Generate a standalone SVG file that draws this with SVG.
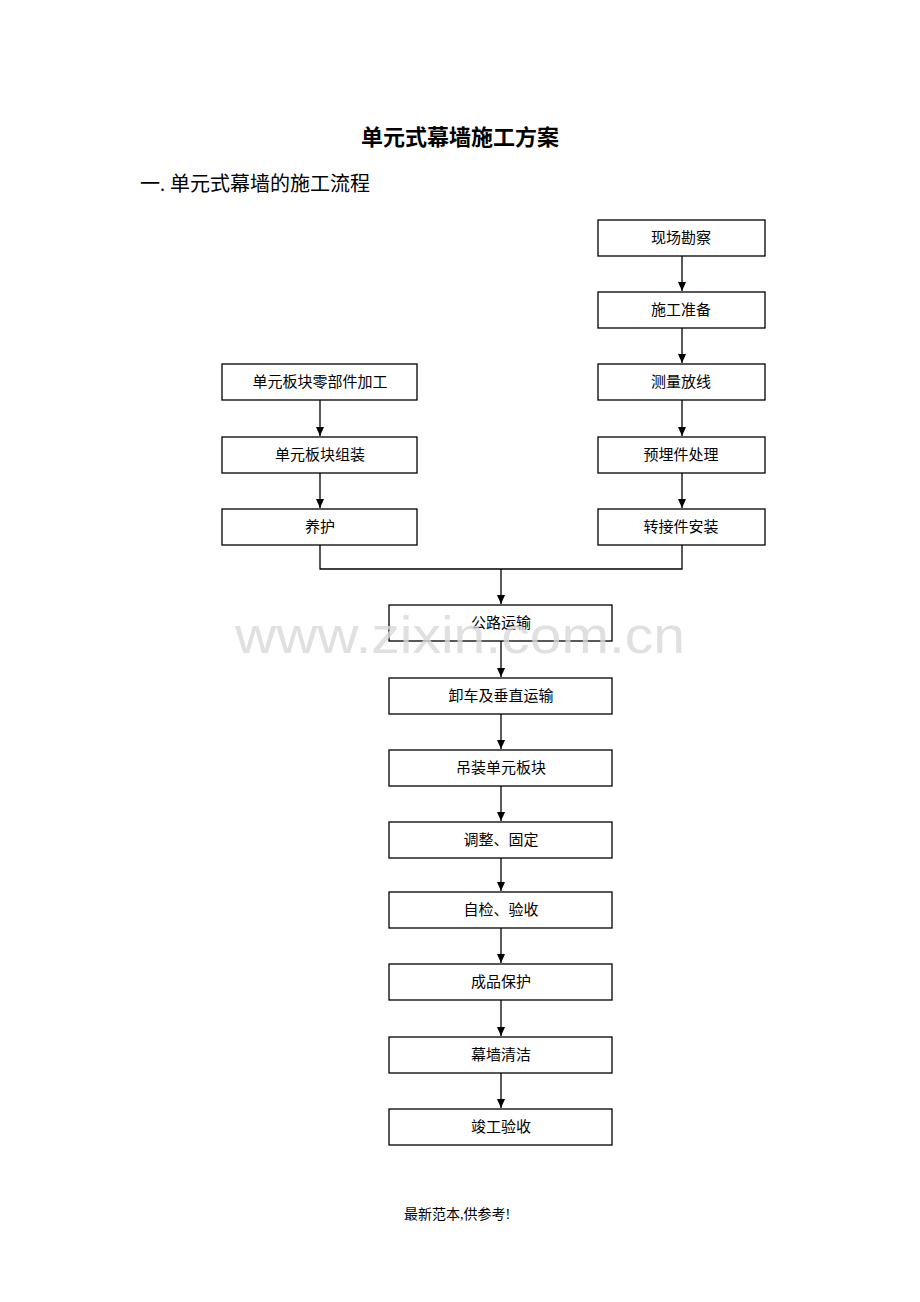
<svg xmlns="http://www.w3.org/2000/svg" width="920" height="1302" viewBox="0 0 920 1302">
<style>
.b{fill:#fff;stroke:#000;stroke-width:1.3}
.t{font-family:"Liberation Serif","Noto Sans CJK SC",serif;font-size:15px;text-anchor:middle;fill:#000}
.c line,.c polyline{stroke:#000;stroke-width:1.3;fill:none}
</style>
<defs><marker id="a" markerWidth="10" markerHeight="10" refX="9" refY="5" orient="auto" markerUnits="userSpaceOnUse"><path d="M0,1 L9,5 L0,9 Z" fill="#000"/></marker></defs>
<rect width="920" height="1302" fill="#fff"/>
<text x="460" y="145" style="font-family:'Liberation Serif','Noto Sans CJK SC',serif;font-size:22px;font-weight:bold;text-anchor:middle">单元式幕墙施工方案</text>
<text x="140" y="191" style="font-family:'Liberation Serif','Noto Sans CJK SC',serif;font-size:20px">一. 单元式幕墙的施工流程</text>
<g class="c">
<line x1="682" y1="256" x2="682" y2="291" marker-end="url(#a)"/>
<line x1="682" y1="328" x2="682" y2="363" marker-end="url(#a)"/>
<line x1="682" y1="400" x2="682" y2="436" marker-end="url(#a)"/>
<line x1="682" y1="473" x2="682" y2="508" marker-end="url(#a)"/>
<line x1="320" y1="400" x2="320" y2="436" marker-end="url(#a)"/>
<line x1="320" y1="473" x2="320" y2="508" marker-end="url(#a)"/>
<polyline points="320,545 320,569 682,569 682,545"/>
<line x1="501" y1="569" x2="501" y2="604" marker-end="url(#a)"/>
<line x1="501" y1="641" x2="501" y2="677" marker-end="url(#a)"/>
<line x1="501" y1="714" x2="501" y2="749" marker-end="url(#a)"/>
<line x1="501" y1="786" x2="501" y2="821" marker-end="url(#a)"/>
<line x1="501" y1="858" x2="501" y2="891" marker-end="url(#a)"/>
<line x1="501" y1="928" x2="501" y2="963" marker-end="url(#a)"/>
<line x1="501" y1="1000" x2="501" y2="1036" marker-end="url(#a)"/>
<line x1="501" y1="1073" x2="501" y2="1108" marker-end="url(#a)"/>
</g>
<g id="r1"><rect class="b" x="598" y="220" width="167" height="36"/><text class="t" x="681" y="243">现场勘察</text></g>
<g id="r2"><rect class="b" x="598" y="292" width="167" height="36"/><text class="t" x="681" y="315">施工准备</text></g>
<g id="r3"><rect class="b" x="598" y="364" width="167" height="36"/><text class="t" x="681" y="387">测量放线</text></g>
<g id="r4"><rect class="b" x="598" y="437" width="167" height="36"/><text class="t" x="681" y="460">预埋件处理</text></g>
<g id="r5"><rect class="b" x="598" y="509" width="167" height="36"/><text class="t" x="681" y="532">转接件安装</text></g>
<g id="l1"><rect class="b" x="222" y="364" width="195" height="36"/><text class="t" x="320" y="387">单元板块零部件加工</text></g>
<g id="l2"><rect class="b" x="222" y="437" width="195" height="36"/><text class="t" x="320" y="460">单元板块组装</text></g>
<g id="l3"><rect class="b" x="222" y="509" width="195" height="36"/><text class="t" x="320" y="532">养护</text></g>
<g id="c1"><rect class="b" x="389" y="605" width="223" height="36"/><text class="t" x="501" y="628">公路运输</text></g>
<g id="c2"><rect class="b" x="389" y="678" width="223" height="36"/><text class="t" x="501" y="701">卸车及垂直运输</text></g>
<g id="c3"><rect class="b" x="389" y="750" width="223" height="36"/><text class="t" x="501" y="773">吊装单元板块</text></g>
<g id="c4"><rect class="b" x="389" y="822" width="223" height="36"/><text class="t" x="501" y="845">调整、固定</text></g>
<g id="c5"><rect class="b" x="389" y="892" width="223" height="36"/><text class="t" x="501" y="915">自检、验收</text></g>
<g id="c6"><rect class="b" x="389" y="964" width="223" height="36"/><text class="t" x="501" y="987">成品保护</text></g>
<g id="c7"><rect class="b" x="389" y="1037" width="223" height="36"/><text class="t" x="501" y="1060">幕墙清洁</text></g>
<g id="c8"><rect class="b" x="389" y="1109" width="223" height="36"/><text class="t" x="501" y="1132">竣工验收</text></g>
<text x="460" y="653" style="font-family:'Liberation Sans',sans-serif;font-size:52px;text-anchor:middle;fill:#d8d8d8;fill-opacity:0.8" textLength="450" lengthAdjust="spacingAndGlyphs">www.zixin.com.cn</text>
<text class="t" x="457" y="1219" style="font-size:14px">最新范本,供参考!</text>
</svg>
